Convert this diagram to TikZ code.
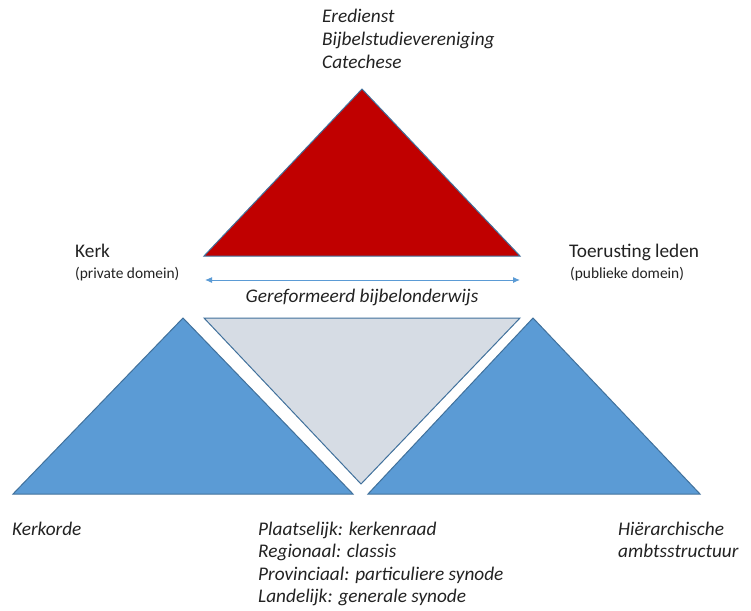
\documentclass[tikz,border=0pt]{standalone}
\usepackage{fontspec}
\setmainfont{Carlito}
\usetikzlibrary{arrows.meta}
\definecolor{redfill}{HTML}{C00000}
\definecolor{bluefill}{HTML}{5B9BD5}
\definecolor{blueline}{HTML}{41719C}
\definecolor{grayfill}{HTML}{D6DCE4}
\definecolor{txt}{HTML}{222222}
\tikzset{
  tri/.style={draw=blueline, line width=1pt, line join=miter},
  lab/.style={anchor=base west, inner sep=0pt, text=txt, font=\fontsize{19.3}{22}\selectfont\itshape},
  big/.style={anchor=base west, inner sep=0pt, text=txt, font=\fontsize{19.3}{22}\selectfont},
  small/.style={anchor=base west, inner sep=0pt, text=txt, font=\fontsize{15.4}{18}\selectfont},
}
\begin{document}
\begin{tikzpicture}[x=1pt, y=-1pt]
\useasboundingbox (0,0) rectangle (751,610);
% triangles
\draw[tri, fill=redfill] (362,89) -- (520,256) -- (204,256) -- cycle;
\draw[tri, fill=grayfill] (204,318) -- (520,318) -- (361,484) -- cycle;
\draw[tri, fill=bluefill] (183,318) -- (353,494) -- (13,494) -- cycle;
\draw[tri, fill=bluefill] (533,318) -- (700,494) -- (368,494) -- cycle;
% arrow
\coordinate (al) at (205,280);
\coordinate (ar) at (520,280);
\draw[bluefill, line width=1pt, {Latex[length=7pt,width=6pt]}-{Latex[length=7pt,width=6pt]}] (al) -- (ar);
% top labels
\node[lab] (t1) at (322,23) {Eredienst};
\node[lab] (t2) at (322,45.5) {Bijbelstudievereniging};
\node[lab] (t3) at (322,68) {Catechese};
% side labels
\node[big] (kerk) at (75,257) {Kerk};
\node[small] (priv) at (75,278) {(private domein)};
\node[big] (toer) at (569,257) {Toerusting leden};
\node[small] (publ) at (570,278) {(publieke domein)};
\node[lab, anchor=base] (gbo) at (362,302) {Gereformeerd bijbelonderwijs};
% bottom labels
\node[lab] (kord) at (12,535) {Kerkorde};
\node[lab] (b1) at (258,535) {Plaatselijk: kerkenraad};
\node[lab] (b2) at (258,557.5) {Regionaal: classis};
\node[lab] (b3) at (258,580) {Provinciaal: particuliere synode};
\node[lab] (b4) at (258,602.5) {Landelijk: generale synode};
\node[lab] (h1) at (618,535) {Hiërarchische};
\node[lab] (h2) at (618,557.5) {ambtsstructuur};
\end{tikzpicture}
\end{document}
